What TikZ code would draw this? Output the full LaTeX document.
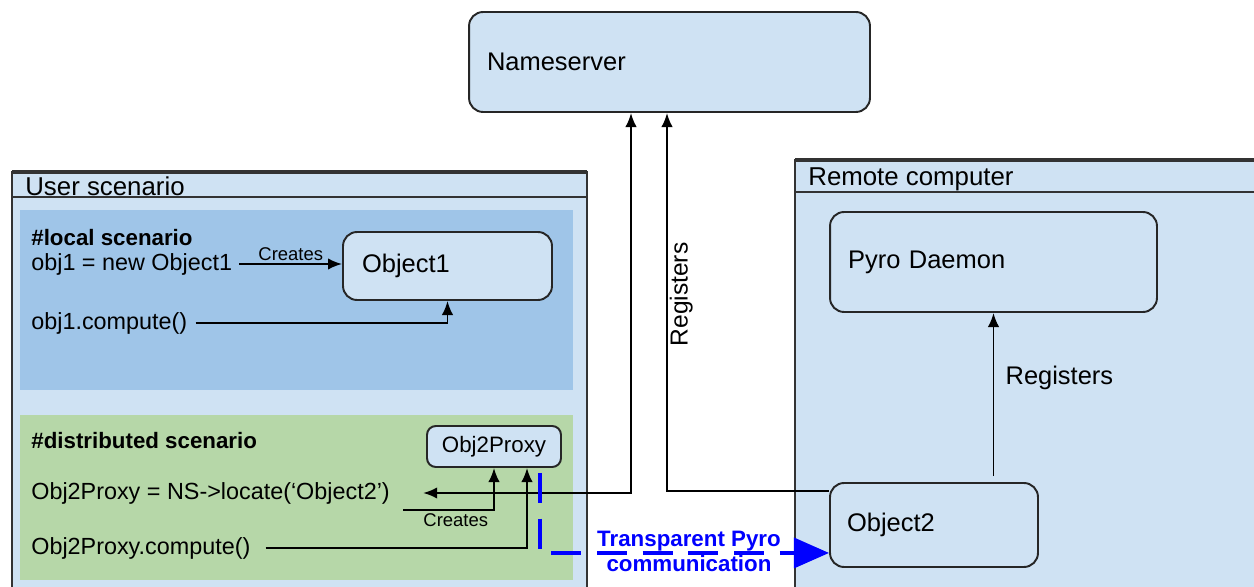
\documentclass[tikz,border=0pt]{standalone}
\usepackage{fontspec}
\setmainfont{Liberation Sans}
\usetikzlibrary{arrows.meta,calc}
\definecolor{paleblue}{HTML}{CFE2F3}
\definecolor{midblue}{HTML}{9FC5E8}
\definecolor{palegreen}{HTML}{B6D7A8}
\definecolor{framegray}{HTML}{333333}
\definecolor{pyroblue}{HTML}{0000FF}

\begin{document}
\begin{tikzpicture}[x=0.02cm,y=-0.02cm,>={Latex[length=8pt,width=6.5pt]}]
    \tikzstyle{box}=[draw=black!85,fill=paleblue,rounded corners=8pt,line width=1.1pt,align=left,font=\fontsize{14.5}{17}\selectfont]
    \tikzstyle{txt}=[anchor=west,inner sep=0pt,font=\fontsize{13.3}{15}\selectfont]
    \tikzstyle{head}=[anchor=west,inner sep=0pt,font=\fontsize{12.7}{15}\selectfont\bfseries]
    \tikzstyle{small}=[font=\fontsize{10.5}{12}\selectfont,inner sep=1.5pt]
    \tikzstyle{frame}=[draw=framegray,fill=paleblue,line width=1.3pt]
    \tikzstyle{link}=[line width=1.1pt]

    \useasboundingbox (0,0) rectangle (1254,587);
    \clip (0,0) rectangle (1254,587);

    % the two computers
    \draw[frame] (12,172) rectangle (587,600);
    \draw[framegray,line width=2.4pt] (12,172) -- (587,172);
    \draw[framegray,line width=1.3pt] (12,197) -- (587,197);
    \node[txt,font=\fontsize{14.7}{17}\selectfont] (usertitle) at (25,186) {User scenario};

    \draw[frame] (795,160) rectangle (1270,600);
    \draw[framegray,line width=2.4pt] (795,160) -- (1270,160);
    \draw[framegray,line width=1.3pt] (795,192) -- (1270,192);
    \node[txt,font=\fontsize{14.7}{17}\selectfont] (remotetitle) at (808,179) {Remote computer};

    \fill[midblue] (20,210) rectangle (573,390);
    \fill[palegreen] (20,415) rectangle (573,580);

    \node[box,text width=7.3cm,inner xsep=0.36cm,minimum height=2cm] (ns) at (669.5,62) {Nameserver};
    \node[box,text width=3.42cm,inner xsep=0.38cm,minimum height=1.36cm] (obj1) at (447.5,266) {Object1};
    \node[box,text width=5.82cm,inner xsep=0.36cm,minimum height=2cm] (pyro) at (993.5,262) {Pyro Daemon};
    \node[box,text width=3.48cm,inner xsep=0.34cm,minimum height=1.68cm] (obj2) at (934,525) {Object2};
    \node[box,align=center,font=\fontsize{12.7}{15}\selectfont,minimum width=2.68cm,minimum height=0.82cm,inner sep=0pt,rounded corners=5pt] (proxy) at (494,446.5) {Obj2Proxy};

    \node[head] (lochead) at (31,238) {\#local scenario};
    \node[head] (disthead) at (31,441) {\#distributed scenario};
    \foreach \nm/\y/\t in {new1/264/obj1 = new Object1, comp1/323/obj1.compute(), locate/493/Obj2Proxy = NS->locate(‘Object2’), comp2/548/Obj2Proxy.compute()}
        \node[txt] (\nm) at (31,\y) {\t};

    % local scenario
    \draw[link,->] ([xshift=0.14cm]new1.east) -- (new1.east -| obj1.west) node[midway,above,small] {Creates};
    \draw[link,->] ([xshift=0.16cm]comp1.east) -| (obj1.south);

    % distributed scenario
    \coordinate (cr2) at (403,510);
    \coordinate (pc) at ($(proxy.south)+(33,0)$);
    \draw[link,->] (cr2) -| (proxy.south) node[pos=0.29,below,small] {Creates};
    \draw[link,->] ([xshift=0.3cm]comp2.east) -| (pc);

    % nameserver lookups
    \coordinate (nsl) at ($(ns.south)+(-38.5,0)$);
    \coordinate (nsr) at ($(ns.south)+(-2.5,0)$);
    \draw[link,<->] ([xshift=0.66cm]locate.east) -| (nsl);
    \draw[link,->] ($(obj2.north west)+(0,9)$) -| (nsr)
        node[pos=0.76,rotate=90,anchor=north,inner sep=1pt,font=\fontsize{14}{16}\selectfont] {Registers};

    \coordinate (pr) at ($(obj2.north -| pyro.south)+(0,-6)$);
    \draw[link,->] (pr) -- (pyro.south) node[pos=0.6,right,xshift=3pt,font=\fontsize{14.5}{17}\selectfont] {Registers};

    % pyro link
    \coordinate (bstart) at ($(proxy.south)+(46,5)$);
    \draw[pyroblue,line width=2.3pt,dash pattern=on 17pt off 9pt,-{Triangle[length=20pt,width=17pt]}]
        (bstart) |- ($(obj2.south west)+(0,-15)$);
    \node[font=\fontsize{12.7}{14.2}\selectfont\bfseries,text=pyroblue,align=center,inner sep=0pt] (tpc) at (689,551) {Transparent Pyro\\communication};
\end{tikzpicture}
\end{document}
